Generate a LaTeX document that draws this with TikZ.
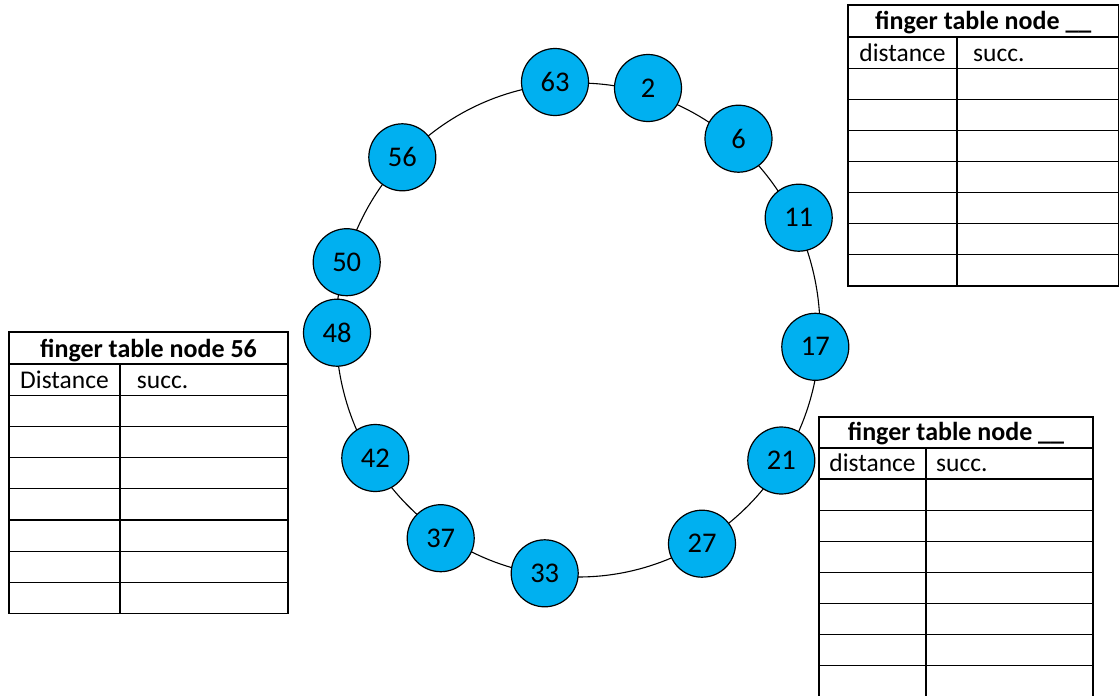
\documentclass[tikz,border=0pt]{standalone}
\usepackage{fontspec}
\setmainfont{Carlito}
\definecolor{ringblue}{RGB}{0,176,240}

\begin{document}
\begin{tikzpicture}[x=1pt, y=-1pt,
  peer/.style={circle, draw, line width=1.2pt, fill=ringblue, minimum size=67pt, inner sep=0pt, font=\fontsize{28.5}{32}\selectfont},
  tabline/.style={draw, line width=1.2pt},
  ttl/.style={inner sep=0pt, anchor=base, font=\fontsize{26}{30}\selectfont\bfseries},
  hdr/.style={inner sep=0pt, anchor=base, font=\fontsize{25.5}{30}\selectfont}]
\useasboundingbox (0,0) rectangle (1120,696);
%\draw[gray!35] (0,0) grid[step=50] (1120,696);

% the ring
\draw[line width=1.1pt] (578,330) ellipse [x radius=242pt, y radius=247pt];

\node[peer] (n63) at (555,82) {63};
\node[peer] (n2) at (648,88) {2};
\node[peer] (n6) at (738.5,138.7) {6};
\node[peer] (n11) at (798.7,217.7) {11};
\node[peer] (n17) at (815.3,346.8) {17};
\node[peer] (n21) at (781.3,460.5) {21};
\node[peer] (n27) at (702,543.7) {27};
\node[peer] (n33) at (544.7,573.3) {33};
\node[peer] (n37) at (440.7,538.2) {37};
\node[peer] (n42) at (375.3,458) {42};
\node[peer] (n48) at (337,332.7) {48};
\node[peer] (n50) at (346.7,262.2) {50};
\node[peer] (n56) at (402.3,157.3) {56};

% finger table of 56
\draw[tabline] (9,332) rectangle (288,613.6)
  (9,364) -- ++(279,0) (120,364) -- ++(0,249.6)
  (9,395.2) -- ++(279,0) ++(-279,31.2) -- ++(279,0) ++(-279,31.2) -- ++(279,0) ++(-279,31.2) -- ++(279,0)
  ++(-279,31.2) -- ++(279,0) ++(-279,31.2) -- ++(279,0) ++(-279,31.2) -- ++(279,0);
\node[ttl] (t56) at (148.5,357) {finger table node 56};
\node[hdr] (d56) at (64.5,388.3) {Distance};
\node[hdr, anchor=base west] (s56) at (136.7,388.3) {succ.};

% finger table top right
\draw[tabline] (848,5) rectangle (1118.5,285.9)
  (848,37) -- ++(270.5,0) (957,37) -- ++(0,248.9)
  (848,68.2) -- ++(270.5,0) ++(-270.5,31.1) -- ++(270.5,0) ++(-270.5,31.1) -- ++(270.5,0) ++(-270.5,31.1) -- ++(270.5,0)
  ++(-270.5,31.1) -- ++(270.5,0) ++(-270.5,31.1) -- ++(270.5,0) ++(-270.5,31.1) -- ++(270.5,0);
\node[ttl] (ta) at (983.3,29) {finger table node \_\_};
\node[hdr] (da) at (902.5,61) {distance};
\node[hdr, anchor=base west] (sa) at (973,61) {succ.};

% finger table bottom right
\draw[tabline] (819,417) rectangle (1093,696.7)
  (819,448) -- ++(274,0) (926,448) -- ++(0,248.7)
  (819,479) -- ++(274,0) ++(-274,31.1) -- ++(274,0) ++(-274,31.1) -- ++(274,0) ++(-274,31.1) -- ++(274,0)
  ++(-274,31.1) -- ++(274,0) ++(-274,31.1) -- ++(274,0) ++(-274,31.1) -- ++(274,0);
\node[ttl] (tb) at (956,440.5) {finger table node \_\_};
\node[hdr] (db) at (872.5,471.7) {distance};
\node[hdr, anchor=base west] (sb) at (936,471.7) {succ.};

\end{tikzpicture}
\end{document}
